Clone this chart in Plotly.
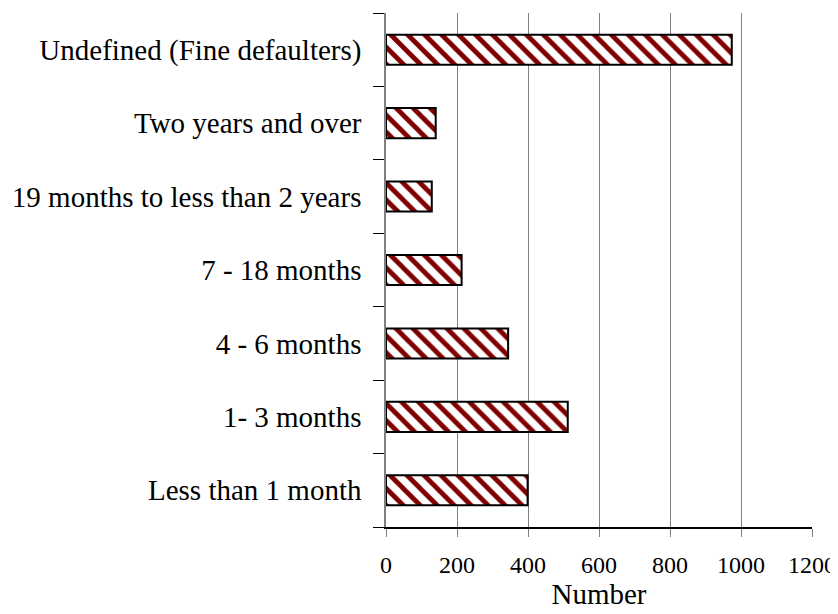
import plotly.graph_objects as go

categories = ["Undefined (Fine defaulters)", "Two years and over", "19 months to less than 2 years",
              "7 - 18 months", "4 - 6 months", "1- 3 months", "Less than 1 month"]
values = [974, 140, 129, 213, 344, 512, 399]
x_ticks = [0, 200, 400, 600, 800, 1000, 1200]

fig = go.Figure(go.Bar(
    y=categories, x=values, orientation="h", width=0.41,
    marker=dict(color="white", line=dict(color="black", width=2),
                pattern=dict(shape="\\", fgcolor="#800000", bgcolor="white",
                             size=12, solidity=0.4, fillmode="replace")),
))

font = "Liberation Serif, Times New Roman, serif"
# page body has an 8px default margin; figure size/margins compensate for it
fig.update_layout(
    width=830, height=606, margin=dict(l=378, r=26, t=5, b=87),
    paper_bgcolor="white", plot_bgcolor="white", showlegend=False,
    font=dict(family=font, color="black", size=24),
    bargap=0.59,
)
fig.update_xaxes(range=[0, 1200], tickvals=x_ticks, showgrid=True, gridcolor="#808080", gridwidth=1,
                 showline=True, linecolor="black", linewidth=1.5,
                 ticks="outside", ticklen=8, tickcolor="#808080",
                 tickfont=dict(size=24), ticklabelstandoff=7, automargin=False,
                 zeroline=False,
                 title=dict(text="Number", font=dict(size=29), standoff=5))
fig.update_yaxes(categoryorder="array", categoryarray=categories[::-1],
                 tickson="boundaries", ticks="outside", ticklen=11, tickcolor="black",
                 showline=True, linecolor="#808080", linewidth=1.5, automargin=False,
                 showgrid=False, tickfont=dict(size=29), ticklabelstandoff=17)

fig.write_html("out.html")
